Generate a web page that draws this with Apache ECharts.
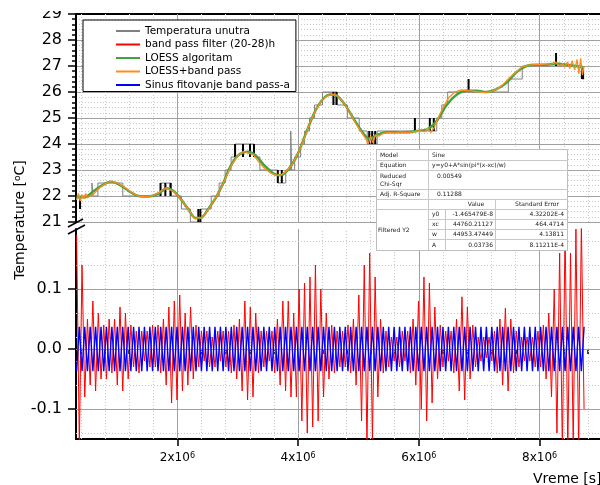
<!DOCTYPE html>
<html>
<head>
<meta charset="utf-8">
<script src="https://cdn.jsdelivr.net/npm/echarts@6/dist/echarts.min.js"></script>
<style>
  html, body { margin: 0; padding: 0; background: #fff; }
  #chart { width: 600px; height: 485px; }
</style>
</head>
<body>
<div id="chart"></div>
<script>
const FONT = "'DejaVu Sans', sans-serif"

// time is in units of 1e6 s
// Temperatura unutra: [time, level] (level holds until next point)
const tempInside = [
  [0.33, 22.0], [0.584, 22.5], [0.601, 22.0], [0.683, 22.5], [1.095, 22.0], [1.72, 22.5], [1.9, 22.0],
  [2.066, 21.5], [2.214, 21.0], [2.38, 21.5], [2.56, 22.0], [2.691, 22.5], [2.79, 23.0], [2.889, 23.5],
  [2.955, 24.0], [3.268, 23.5], [3.366, 23.0], [3.663, 22.5], [3.794, 23.0], [3.877, 24.5], [3.893, 23.0],
  [3.942, 23.5], [4.041, 24.0], [4.107, 24.5], [4.189, 25.0], [4.272, 25.5], [4.403, 26.0], [4.65, 25.5],
  [4.815, 25.0], [5.012, 24.5], [5.144, 24.0], [5.309, 24.5], [6.296, 25.0], [6.379, 25.5], [6.477, 26.0],
  [7.481, 26.5], [7.712, 27.0], [8.70, 26.5], [8.736, 26.5]
]
// fast toggling of the sensor between two levels: [time, low, high]
const tempToggles = [
  [0.387, 21.5, 22.0], [1.72, 22.0, 22.5], [1.80, 22.0, 22.5], [1.885, 22.0, 22.5], [2.346, 21.0, 21.5],
  [2.38, 21.0, 21.5], [2.955, 23.5, 24.0], [3.086, 23.5, 24.0], [3.202, 23.5, 24.0], [3.268, 23.5, 24.0],
  [3.663, 22.5, 23.0], [3.729, 22.5, 23.0], [4.584, 25.5, 26.0], [4.634, 25.5, 26.0], [5.177, 24.0, 24.5],
  [5.226, 24.0, 24.5], [5.276, 24.0, 24.5], [5.934, 24.5, 25.0], [6.181, 24.5, 25.0], [6.247, 24.5, 25.0],
  [6.823, 26.0, 26.5], [8.272, 27.0, 27.5], [8.70, 26.5, 27.0], [8.72, 26.5, 27.0]
]
// LOESS algoritam
const loess = [
  [0.33, 21.95], [0.45, 21.95], [0.62, 22.2], [0.78, 22.45], [0.9, 22.55], [1.03, 22.45], [1.19, 22.2],
  [1.36, 22.0], [1.52, 21.98], [1.69, 22.1], [1.82, 22.3], [1.93, 22.2], [2.05, 21.9], [2.18, 21.5],
  [2.3, 21.15], [2.38, 21.15], [2.51, 21.5], [2.64, 21.95], [2.76, 22.5], [2.87, 23.1], [3.0, 23.55],
  [3.17, 23.7], [3.3, 23.55], [3.43, 23.2], [3.6, 22.85], [3.7, 22.8], [3.83, 23.0], [3.99, 23.6],
  [4.16, 24.6], [4.29, 25.3], [4.42, 25.75], [4.54, 25.9], [4.65, 25.85], [4.78, 25.5], [4.91, 25.0],
  [5.05, 24.5], [5.18, 24.2], [5.31, 24.35], [5.47, 24.45], [5.64, 24.45], [5.8, 24.45], [5.97, 24.5],
  [6.13, 24.55], [6.3, 24.9], [6.46, 25.5], [6.63, 25.9], [6.79, 26.05], [6.96, 26.05], [7.12, 26.0],
  [7.28, 26.1], [7.45, 26.35], [7.61, 26.75], [7.78, 27.0], [7.94, 27.05], [8.11, 27.05], [8.27, 27.1],
  [8.44, 27.05], [8.6, 27.0], [8.733, 26.95]
]
// LOESS+band pass
const loessBand = [
  [0.33, 21.85], [0.36, 22.1], [0.39, 21.8], [0.42, 22.05], [0.45, 21.9], [0.48, 22.1], [0.51, 21.92],
  [0.55, 22.0], [0.6, 22.05], [0.7, 22.3], [0.8, 22.47], [0.9, 22.56], [1.0, 22.5], [1.1, 22.38],
  [1.2, 22.2], [1.3, 22.05], [1.4, 21.98], [1.5, 21.97], [1.6, 22.02], [1.7, 22.15], [1.8, 22.3],
  [1.87, 22.25], [1.95, 22.15], [2.05, 21.9], [2.15, 21.6], [2.25, 21.25], [2.3, 21.12], [2.35, 21.18],
  [2.4, 21.15], [2.5, 21.45], [2.6, 21.8], [2.7, 22.2], [2.8, 22.7], [2.9, 23.2], [3.0, 23.55],
  [3.1, 23.72], [3.17, 23.65], [3.25, 23.6], [3.35, 23.3], [3.45, 23.05], [3.55, 22.88], [3.65, 22.78],
  [3.72, 22.82], [3.8, 22.95], [3.9, 23.2], [4.0, 23.65], [4.1, 24.2], [4.2, 24.85], [4.3, 25.35],
  [4.4, 25.7], [4.5, 25.88], [4.6, 25.9], [4.65, 25.85], [4.75, 25.6], [4.85, 25.25], [4.95, 24.8],
  [5.05, 24.45], [5.12, 24.2], [5.16, 24.0], [5.2, 24.3], [5.24, 24.05], [5.28, 24.35], [5.33, 24.3],
  [5.4, 24.4], [5.5, 24.45], [5.6, 24.43], [5.7, 24.47], [5.8, 24.44], [5.9, 24.47], [6.0, 24.5],
  [6.1, 24.48], [6.15, 24.6], [6.2, 24.45], [6.25, 24.62], [6.3, 24.9], [6.4, 25.4], [6.5, 25.8],
  [6.6, 26.0], [6.7, 26.08], [6.8, 26.05], [6.9, 26.03], [7.0, 26.0], [7.1, 25.98], [7.2, 26.02],
  [7.3, 26.12], [7.4, 26.3], [7.5, 26.55], [7.6, 26.75], [7.7, 26.95], [7.8, 27.02], [7.9, 27.05],
  [8.0, 27.05], [8.1, 27.07], [8.2, 27.08], [8.27, 27.15], [8.33, 27.0], [8.38, 27.1], [8.42, 26.95],
  [8.46, 27.15], [8.5, 26.9], [8.54, 27.2], [8.58, 26.85], [8.62, 27.25], [8.65, 26.7], [8.68, 27.3],
  [8.71, 26.65], [8.733, 27.0]
]

// band pass filter (20-28)h and the sine fit, sampled every half period from bandStart
const bandStart = 0.33
const bandStep = 0.044953
const bandPass = [
  0.19, -0.16, 0.14, -0.08,
  0.05, -0.06, 0.08, -0.07, 0.06,
  -0.05, 0.04, -0.05, 0.05, -0.04, 0.05,
  -0.06, 0.07, -0.07, 0.06, -0.05,
  0.04, -0.03, 0.03, -0.04, 0.03, -0.02, 0.03, -0.03, 0.04, -0.03, 0.04, -0.04, 0.05,
  -0.06, 0.07, -0.09, 0.08, -0.085, 0.09, -0.07,
  0.06, -0.06, 0.07, -0.05, 0.04,
  -0.03, 0.03, -0.02, 0.03, -0.03, 0.02, -0.03, 0.03, -0.02, 0.03, -0.03, 0.03, -0.04, 0.04, -0.05, 0.05,
  -0.07, 0.08, -0.085, 0.07, -0.08, 0.06,
  -0.04, 0.03, -0.03, 0.03, -0.02, 0.03, -0.04, 0.05,
  -0.06, 0.08, -0.07, 0.08, -0.08, 0.06,
  -0.08, 0.1, -0.12, 0.11, -0.14, 0.12, -0.13, 0.14, -0.12, 0.1, -0.08,
  0.06, -0.05, 0.04, -0.04, 0.03, -0.03, 0.03, -0.03, 0.04, -0.04, 0.05, -0.06, 0.09,
  -0.12, 0.14, -0.16, 0.16, -0.15, 0.12, -0.08,
  0.05, -0.04, 0.03, -0.03, 0.02, -0.02, 0.02, -0.03, 0.03, -0.02, 0.03, -0.04, 0.05, -0.06, 0.08,
  -0.1, 0.12, -0.12, 0.11, -0.09, 0.07,
  -0.05, 0.04, -0.03, 0.03, -0.02, 0.03, -0.04, 0.05,
  -0.07, 0.087, -0.085, 0.07,
  -0.05, 0.04, -0.03, 0.02, -0.02, 0.02, -0.015, 0.02, -0.02, 0.03, -0.04,
  0.05, -0.06, 0.068, -0.07,
  0.05, -0.04, 0.03, -0.03, 0.02, -0.02, 0.02, -0.02, 0.02, -0.03, 0.03, -0.03, 0.04, -0.05, 0.06,
  -0.08, 0.1, -0.14, 0.16, -0.17, 0.2, -0.17, 0.16, -0.16, 0.2, -0.17, 0.21, -0.1
]
const sineFit = [
  -0.037, 0.037, -0.037, 0.037, -0.037, 0.037, -0.037, 0.037, -0.037, 0.037, -0.037, 0.037, -0.037, 0.037, -0.037, 0.037,
  -0.037, 0.037, -0.037, 0.037, -0.037, 0.037, -0.037, 0.037, -0.037, 0.037, -0.037, 0.037, -0.037, 0.037, -0.037, 0.037,
  -0.037, 0.037, -0.037, 0.037, -0.037, 0.037, -0.037, 0.037, -0.037, 0.037, -0.037, 0.037, -0.037, 0.037, -0.037, 0.037,
  -0.037, 0.037, -0.037, 0.037, -0.037, 0.037, -0.037, 0.037, -0.037, 0.037, -0.037, 0.037, -0.037, 0.037, -0.037, 0.037,
  -0.037, 0.037, -0.037, 0.037, -0.037, 0.037, -0.037, 0.037, -0.037, 0.037, -0.037, 0.037, -0.037, 0.037, -0.037, 0.037,
  -0.037, 0.037, -0.037, 0.037, -0.037, 0.037, -0.037, 0.037, -0.037, 0.037, -0.037, 0.037, -0.037, 0.037, -0.037, 0.037,
  -0.037, 0.037, -0.037, 0.037, -0.037, 0.037, -0.037, 0.037, -0.037, 0.037, -0.037, 0.037, -0.037, 0.037, -0.037, 0.037,
  -0.037, 0.037, -0.037, 0.037, -0.037, 0.037, -0.037, 0.037, -0.037, 0.037, -0.037, 0.037, -0.037, 0.037, -0.037, 0.037,
  -0.037, 0.037, -0.037, 0.037, -0.037, 0.037, -0.037, 0.037, -0.037, 0.037, -0.037, 0.037, -0.037, 0.037, -0.037, 0.037,
  -0.037, 0.037, -0.037, 0.037, -0.037, 0.037, -0.037, 0.037, -0.037, 0.037, -0.037, 0.037, -0.037, 0.037, -0.037, 0.037,
  -0.037, 0.037, -0.037, 0.037, -0.037, 0.037, -0.037, 0.037, -0.037, 0.037, -0.037, 0.037, -0.037, 0.037, -0.037, 0.037,
  -0.037, 0.037, -0.037, 0.037, -0.037, 0.037, -0.037, 0.037, -0.037, 0.037, -0.037, 0.037
]

// ticks
const xMajor = [2, 4, 6, 8]
const xMinor = [0.4, 0.8, 1.2, 1.6, 2.4, 2.8, 3.2, 3.6, 4.4, 4.8, 5.2, 5.6, 6.4, 6.8, 7.2, 7.6, 8.4, 8.8]
const lowMajor = [-0.1, 0, 0.1]
const lowMinor = [-0.14, -0.12, -0.08, -0.06, -0.04, -0.02, 0.02, 0.04, 0.06, 0.08, 0.12, 0.14, 0.16, 0.18]
const lowDotted = [-0.14, -0.06, -0.02, 0.02, 0.06, 0.14, 0.18]

// fit report
const fitHead = [['Model', 'Sine'], ['Equation', 'y=y0+A*sin(pi*(x-xc)/w)']]
const fitStats = [['0.00549'], ['0.11288']]
const fitParams = [
  ['y0', '-1.465479E-8', '4.32202E-4'],
  ['xc', '44760.21127', '464.4714'],
  ['w', '44953.47449', '4.13811'],
  ['A', '0.03736', '8.11211E-4']
]

const seriesNames = ['Temperatura unutra', 'band pass filter (20-28)h', 'LOESS algoritam',
  'LOESS+band pass', 'Sinus fitovanje band pass-a']

const solidGrid = { color: '#a0a0a0', width: 1, type: 'solid' }
const dotGrid = { color: '#c8c8c8', width: 1, type: [1, 2] }

const vLines = [
  ...xMajor.map(v => ({ xAxis: v, lineStyle: solidGrid })),
  ...xMinor.map(v => ({ xAxis: v, lineStyle: dotGrid }))
]
const lowHLines = [
  ...lowMajor.map(v => ({ yAxis: v, lineStyle: solidGrid })),
  ...lowDotted.map(v => ({ yAxis: v, lineStyle: dotGrid }))
]

const gridLineSeries = (xi, yi, data) => ({
  type: 'line', xAxisIndex: xi, yAxisIndex: yi, data: [], silent: true,
  markLine: { z: 1, silent: true, symbol: ['none', 'none'], label: { show: false }, animation: false, data: data }
})

const bandTimes = bandPass.map((v, i) => bandStart + i * bandStep)

const txt = (x, y, text, align) => ({
  type: 'text', x: x, y: y, z: 101,
  style: { text: text, fill: '#222', font: "6px 'DejaVu Sans'", align: align || 'left', verticalAlign: 'middle' }
})
const hl = (x1, x2, y) => ({ type: 'line', z: 101, shape: { x1: x1, y1: y, x2: x2, y2: y }, style: { stroke: '#c8c8c8', lineWidth: 1 } })
const vl = (x, y1, y2) => ({ type: 'line', z: 101, shape: { x1: x, y1: y1, x2: x, y2: y2 }, style: { stroke: '#c8c8c8', lineWidth: 1 } })

const tableEls = [
  { type: 'rect', z: 100, shape: { x: 376.5, y: 149.5, width: 191, height: 101 }, style: { fill: '#fff', stroke: '#bdbdbd', lineWidth: 1 } },
  hl(376, 568, 160.5), hl(376, 568, 170.5), hl(376, 568, 189.5), hl(376, 568, 199.5), hl(376, 568, 209.5),
  hl(428, 568, 219.5), hl(428, 568, 229.5), hl(428, 568, 239.5),
  vl(428.5, 149, 250), vl(495.5, 199, 250), vl(445.5, 209, 250),
  txt(380, 155, fitHead[0][0]), txt(432, 155, fitHead[0][1]),
  txt(380, 165.5, fitHead[1][0]), txt(432, 165.5, fitHead[1][1]),
  txt(380, 176, 'Reduced'), txt(380, 184, 'Chi-Sqr'), txt(437, 176, fitStats[0][0]),
  txt(380, 194.5, 'Adj. R-Square'), txt(437, 194.5, fitStats[1][0]),
  txt(476, 204.5, 'Value', 'center'), txt(537, 204.5, 'Standard Error', 'center'),
  txt(378, 230, 'Filtered Y2'),
  ...fitParams.flatMap((r, i) => [
    txt(432, 214.5 + i * 10.2, r[0]),
    txt(493, 214.5 + i * 10.2, r[1], 'right'),
    txt(564, 214.5 + i * 10.2, r[2], 'right')
  ])
]

const chart = echarts.init(document.getElementById('chart'))

chart.setOption({
  animation: false,
  backgroundColor: '#fff',
  textStyle: { fontFamily: FONT },
  grid: [
    { left: 76, top: 14, width: 528, height: 208 },
    { left: 76, top: 229, width: 528, height: 210 }
  ],
  legend: {
    data: seriesNames,
    left: 83, top: 20, orient: 'vertical',
    padding: [4.5, 6, 0, 32],
    itemWidth: 24, itemHeight: 10, itemGap: 0.5,
    itemStyle: { opacity: 0 },
    backgroundColor: '#fff', borderColor: '#000', borderWidth: 1,
    selectedMode: false, z: 10,
    textStyle: { fontFamily: FONT, fontSize: 10.5, color: '#000', lineHeight: 13 }
  },
  xAxis: [
    {
      type: 'value', gridIndex: 0, position: 'top', min: 0.32, max: 9.0,
      axisLine: { onZero: false, lineStyle: { color: '#000', width: 2 } },
      axisTick: { show: false }, axisLabel: { show: false }, splitLine: { show: false }
    },
    {
      type: 'value', gridIndex: 1, position: 'bottom', min: 0.32, max: 9.0,
      axisLine: { onZero: false, lineStyle: { color: '#000', width: 2 } },
      axisTick: { customValues: xMajor, length: 7, lineStyle: { color: '#000', width: 1.5 } },
      axisLabel: {
        customValues: xMajor, margin: 13, color: '#000',
        formatter: v => `{a|${v}x10}{s|6}`,
        rich: {
          a: { fontFamily: FONT, fontSize: 12, color: '#000' },
          s: { fontFamily: FONT, fontSize: 8, color: '#000', verticalAlign: 'top' }
        }
      },
      splitLine: { show: false }
    },
    {
      type: 'value', gridIndex: 1, position: 'bottom', min: 0.32, max: 9.0,
      axisLine: { show: false },
      axisTick: { customValues: xMinor, length: 5, lineStyle: { color: '#000', width: 1.5 } },
      axisLabel: { show: false }, splitLine: { show: false }
    }
  ],
  yAxis: [
    {
      type: 'value', gridIndex: 0, min: 21, max: 29, interval: 1,
      axisLine: { show: true, onZero: false, lineStyle: { color: '#000', width: 2 } },
      axisTick: { length: 8, lineStyle: { color: '#000', width: 1.5 } },
      minorTick: { show: true, splitNumber: 5, length: 4, lineStyle: { color: '#000', width: 1.5 } },
      axisLabel: { margin: 14, color: '#000', fontFamily: FONT, fontSize: 16 },
      splitLine: { show: true, lineStyle: solidGrid },
      minorSplitLine: { show: true, lineStyle: dotGrid }
    },
    {
      type: 'value', gridIndex: 1, min: -0.15, max: 0.2,
      axisLine: { show: true, onZero: false, lineStyle: { color: '#000', width: 2 } },
      axisTick: { customValues: lowMajor, length: 8, lineStyle: { color: '#000', width: 1.5 } },
      axisLabel: {
        customValues: lowMajor, margin: 14, color: '#000', fontFamily: FONT, fontSize: 16,
        formatter: v => v.toFixed(1)
      },
      splitLine: { show: false }
    },
    {
      type: 'value', gridIndex: 1, min: -0.15, max: 0.2,
      axisLine: { show: false },
      axisTick: { customValues: lowMinor, length: 4, lineStyle: { color: '#000', width: 1.5 } },
      axisLabel: { show: false }, splitLine: { show: false }
    }
  ],
  series: [
    gridLineSeries(0, 0, vLines),
    gridLineSeries(1, 1, [...vLines, ...lowHLines]),
    {
      name: seriesNames[0], type: 'line', xAxisIndex: 0, yAxisIndex: 0, z: 3,
      step: 'end', symbol: 'none', data: tempInside,
      lineStyle: { color: '#808080', width: 1 }, itemStyle: { color: '#808080' }
    },
    {
      type: 'custom', xAxisIndex: 0, yAxisIndex: 0, z: 4, silent: true,
      data: tempToggles, encode: { x: 0, y: [1, 2] },
      renderItem: (params, api) => {
        const lo = api.coord([api.value(0), api.value(1)])
        const hi = api.coord([api.value(0), api.value(2)])
        return { type: 'line', shape: { x1: lo[0], y1: lo[1], x2: hi[0], y2: hi[1] }, style: { stroke: '#000', lineWidth: 2 } }
      }
    },
    {
      name: seriesNames[1], type: 'line', xAxisIndex: 1, yAxisIndex: 1, z: 3,
      symbol: 'none', data: bandPass.map((v, i) => [bandTimes[i], v]),
      lineStyle: { color: '#ff0000', width: 1 }, itemStyle: { color: '#ff0000' }
    },
    {
      name: seriesNames[2], type: 'line', xAxisIndex: 0, yAxisIndex: 0, z: 5,
      symbol: 'none', smooth: 0.3, data: loess,
      lineStyle: { color: '#43a343', width: 2.5 }, itemStyle: { color: '#43a343' }
    },
    {
      name: seriesNames[3], type: 'line', xAxisIndex: 0, yAxisIndex: 0, z: 6,
      symbol: 'none', data: loessBand,
      lineStyle: { color: '#ff8c1a', width: 1.3 }, itemStyle: { color: '#ff8c1a' }
    },
    {
      name: seriesNames[4], type: 'line', xAxisIndex: 1, yAxisIndex: 1, z: 4,
      symbol: 'none', data: sineFit.map((v, i) => [bandTimes[i], v]),
      lineStyle: { color: '#0000ff', width: 1.4 }, itemStyle: { color: '#0000ff' }
    }
  ],
  graphic: {
    elements: [
      // top of the figure is cropped in the original, cutting the "29" label
      { type: 'rect', z: 60, shape: { x: 30, y: 0, width: 44, height: 11 }, style: { fill: '#fff' } },
      // axis break marks
      { type: 'line', z: 50, shape: { x1: 68, y1: 227, x2: 83, y2: 219 }, style: { stroke: '#000', lineWidth: 1.5 } },
      { type: 'line', z: 50, shape: { x1: 68, y1: 234, x2: 85, y2: 225 }, style: { stroke: '#000', lineWidth: 1.5 } },
      {
        type: 'text', x: 20, y: 220, rotation: Math.PI / 2, z: 50,
        style: {
          text: 'Temperature [{s|o}C]', fill: '#000', font: "14px 'DejaVu Sans'",
          align: 'center', verticalAlign: 'middle',
          rich: { s: { fontSize: 9, fontFamily: FONT, fill: '#000', verticalAlign: 'top' } }
        }
      },
      {
        type: 'text', x: 533, y: 479, z: 50,
        style: { text: 'Vreme [s]', fill: '#000', font: "14px 'DejaVu Sans'", align: 'left', verticalAlign: 'middle' }
      },
      ...tableEls
    ]
  }
})
</script>
</body>
</html>
